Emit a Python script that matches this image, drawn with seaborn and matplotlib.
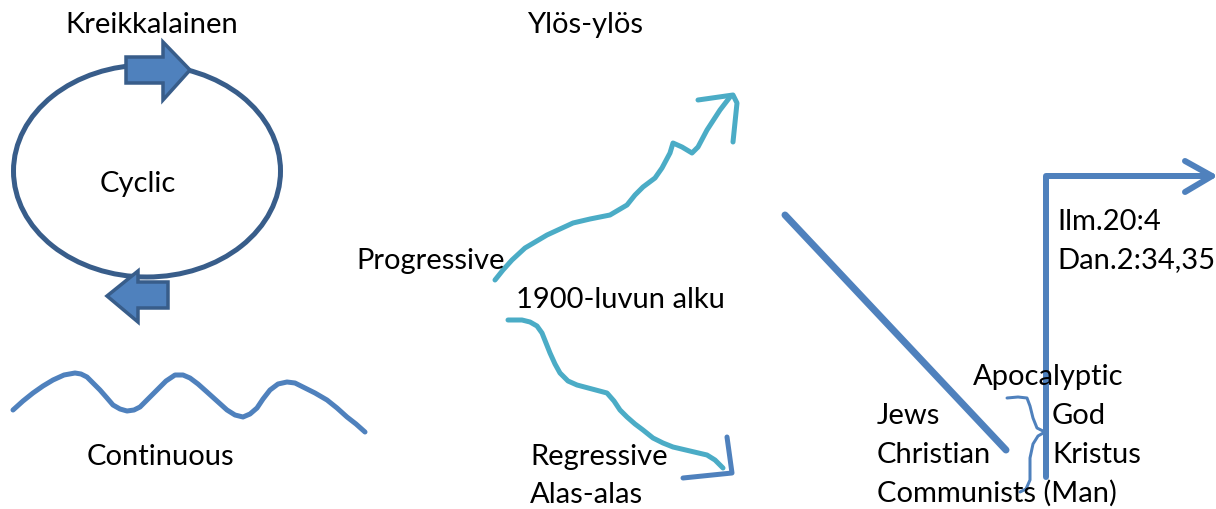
import numpy as np
import pandas as pd
import seaborn as sns
import matplotlib
matplotlib.use('Agg')
from matplotlib import pyplot as plt
from matplotlib.patches import Ellipse, Polygon

# wavy "continuous" line (pixel coords of the picture, y down)
wave_x = [13, 23, 33, 43, 53, 64, 75, 81, 87, 93, 100, 107, 113, 120, 127, 134, 140, 148, 157, 166, 175, 183,
          190, 198, 207, 217, 227, 235, 243, 250, 257, 263, 270, 278, 287, 295, 303, 315, 327, 337, 347, 356, 365]
wave_y = [410, 401, 393, 386, 380, 375, 373, 374, 377, 383, 390, 398, 405, 409, 411, 410, 407, 399, 390, 381,
          375, 375, 378, 384, 392, 401, 410, 415, 417, 414, 408, 399, 390, 384, 382, 383, 387, 393, 400, 408,
          417, 424, 432]

# progressive line going up
prog_x = [495, 503, 512, 525, 547, 573, 590, 610, 627, 635, 643, 655, 662, 670, 673, 682, 692, 698, 707, 720, 730]
prog_y = [280, 270, 260, 248, 235, 223, 219, 215, 205, 195, 187, 178, 168, 153, 143, 147, 153, 147, 130, 110, 97]
prog_head_x = [698, 733, 737, 733]
prog_head_y = [100, 95, 103, 142]

# regressive line going down
regr_x = [508, 522, 530, 537, 542, 546, 550, 555, 560, 568, 577, 592, 607, 614, 620, 627, 635, 643, 653, 663, 673, 690, 707, 715, 723]
regr_y = [320, 320, 322, 326, 333, 343, 353, 364, 373, 381, 385, 389, 393, 401, 410, 417, 424, 430, 438, 443, 447, 451, 455, 460, 468]
regr_head_x = [727, 732, 683]
regr_head_y = [437, 473, 478]

# apocalyptic lines
diag_x = [785, 1006]
diag_y = [215, 450]
el_x = [1046, 1046, 1212]
el_y = [477, 176, 176]
el_head_x = [1185, 1212, 1185]
el_head_y = [161, 176, 192]
brace_x = [1007, 1018, 1027, 1030, 1033, 1037, 1045, 1038, 1033, 1030, 1030, 1026, 1020]
brace_y = [398, 397, 398, 406, 418, 428, 432, 436, 444, 458, 480, 489, 492]

# block arrows on the circle
top_arrow = [(126, 57), (163, 57), (163, 42), (190, 70), (163, 100), (163, 83), (126, 83)]
bot_arrow = [(168, 282), (138, 282), (138, 271), (107, 296), (138, 322), (138, 308), (168, 308)]

labels = ['Kreikkalainen', 'Cyclic', 'Continuous', 'Ylös-ylös', 'Progressive', '1900-luvun alku',
          'Regressive', 'Alas-alas', 'Ilm.20:4', 'Dan.2:34,35', 'Apocalyptic', 'Jews', 'God',
          'Christian', 'Kristus', 'Communists (Man)']
label_x = [152, 138, 160, 585, 356, 516, 530, 530, 1057, 1057, 973, 877, 1052, 877, 1052, 877]
label_y = [33, 192, 465, 33, 269, 308, 465, 503, 230, 268, 385, 424, 424, 463, 463, 502]
label_ha = ['center', 'center', 'center', 'center', 'left', 'left', 'left', 'left', 'left', 'left',
            'left', 'left', 'left', 'left', 'left', 'left']

sns.set_theme(style='white')
plt.rcParams['font.family'] = ['Lato', 'DejaVu Sans']

fig = plt.figure(figsize=(12.16, 5.09), dpi=100)
ax = fig.add_axes([0, 0, 1, 1])

blue = '#4f81bd'
dark = '#385d8a'
teal = '#4bacc6'
px = 0.72  # points per pixel

def draw(xs, ys, color, w):
    sns.lineplot(x=xs, y=ys, sort=False, estimator=None, color=color, linewidth=w * px,
                 ax=ax, solid_capstyle='round', solid_joinstyle='round')

ax.add_patch(Ellipse((147, 171), 267, 212, fill=False, edgecolor=dark, linewidth=5 * px))
for pts in [top_arrow, bot_arrow]:
    ax.add_patch(Polygon(pts, closed=True, facecolor=blue, edgecolor=dark, linewidth=3.5 * px, zorder=3))

draw(wave_x, wave_y, blue, 5)
draw(prog_x, prog_y, teal, 5)
draw(prog_head_x, prog_head_y, teal, 5)
draw(regr_x, regr_y, teal, 5)
draw(regr_head_x, regr_head_y, blue, 5)
draw(diag_x, diag_y, blue, 7)
draw(el_x, el_y, blue, 6)
draw(el_head_x, el_head_y, blue, 6)
draw(brace_x, brace_y, blue, 3)

for t, x, y, ha in zip(labels, label_x, label_y, label_ha):
    ax.text(x, y, t, ha=ha, va='baseline', fontsize=21, color='black', zorder=5)

ax.set_xlim(0, 1216)
ax.set_ylim(509, 0)
ax.axis('off')

fig.savefig('out.png', dpi=100)
